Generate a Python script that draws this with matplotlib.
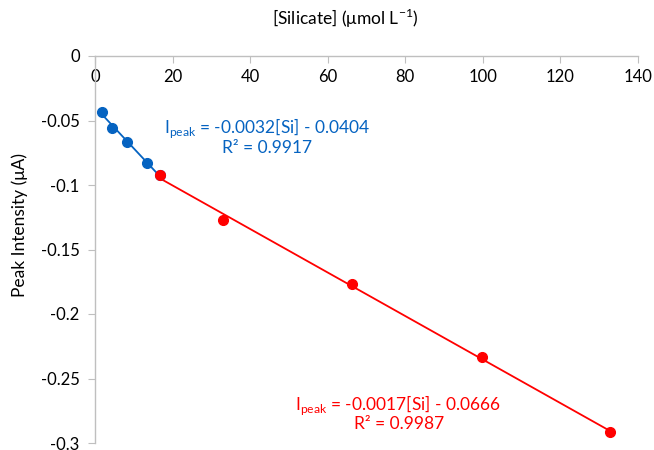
import numpy as np
import matplotlib
matplotlib.use("Agg")
import matplotlib.pyplot as plt

plt.rcParams['font.family'] = ['Lato', 'DejaVu Sans']

# low range (blue) and high range (red) data
si_low = [1.9, 4.3, 8.3, 13.4, 16.8]
ip_low = [-0.0432, -0.0558, -0.0664, -0.0832, -0.0925]
si_high = [16.8, 33.1, 66.3, 99.7, 132.7]
ip_high = [-0.0925, -0.127, -0.1767, -0.2333, -0.2917]

xticks = [0, 20, 40, 60, 80, 100, 120, 140]
yticks = [0, -0.05, -0.1, -0.15, -0.2, -0.25, -0.3]
ytick_labels = ['0', '-0.05', '-0.1', '-0.15', '-0.2', '-0.25', '-0.3']

blue = '#0563C1'
red = '#FF0000'
grey = '#BFBFBF'

fig = plt.figure(figsize=(6.54, 4.5), dpi=100)
ax = fig.add_axes([95/654, 1-443/450, (638-95)/654, (443-56)/450])

# trendlines
for xs, ys, c in [(si_low, ip_low, blue), (si_high, ip_high, red)]:
    p = np.polyfit(xs, ys, 1)
    xx = np.array([min(xs), max(xs)])
    ax.plot(xx, np.polyval(p, xx), color=c, linewidth=1.3, zorder=2)

ax.plot(si_low, ip_low, 'o', color=blue, markersize=7, zorder=3)
ax.plot(si_high, ip_high, 'o', color=red, markersize=7, zorder=4)

ax.set_xlim(0, 140)
ax.set_ylim(-0.3, 0)
ax.set_xticks(xticks)
ax.set_yticks(yticks)
ax.set_yticklabels(ytick_labels)

ax.spines['top'].set_visible(False)
ax.spines['right'].set_visible(False)
ax.spines['bottom'].set_position(('data', 0))
for s in ['left', 'bottom']:
    ax.spines[s].set_color(grey)
    ax.spines[s].set_linewidth(1.0)
ax.tick_params(colors=grey, labelcolor='#000000', labelsize=12, length=5)
ax.tick_params(axis='x', pad=4)
ax.tick_params(axis='y', pad=6)
ax.patch.set_alpha(0)

fig.text(345/654, 1-18/450, r'[Silicate] (μmol L$^{\mathregular{-1}}$)', ha='center', va='center', fontsize=12.5)
fig.text(20/654, 0.5, 'Peak Intensity (μA)', rotation=90, ha='center', va='center', fontsize=12.5)

ax.text(44.3, -0.0558, r'I$_{\mathregular{peak}}$ = -0.0032[Si] - 0.0404', color=blue,
        ha='center', va='center', fontsize=12.5)
ax.text(44.3, -0.0713, 'R² = 0.9917', color=blue, ha='center', va='center', fontsize=12.5)
ax.text(78.1, -0.2705, r'I$_{\mathregular{peak}}$ = -0.0017[Si] - 0.0666', color=red,
        ha='center', va='center', fontsize=12.5)
ax.text(78.3, -0.2853, 'R² = 0.9987', color=red, ha='center', va='center', fontsize=12.5)

fig.savefig('out.png', dpi=100)
